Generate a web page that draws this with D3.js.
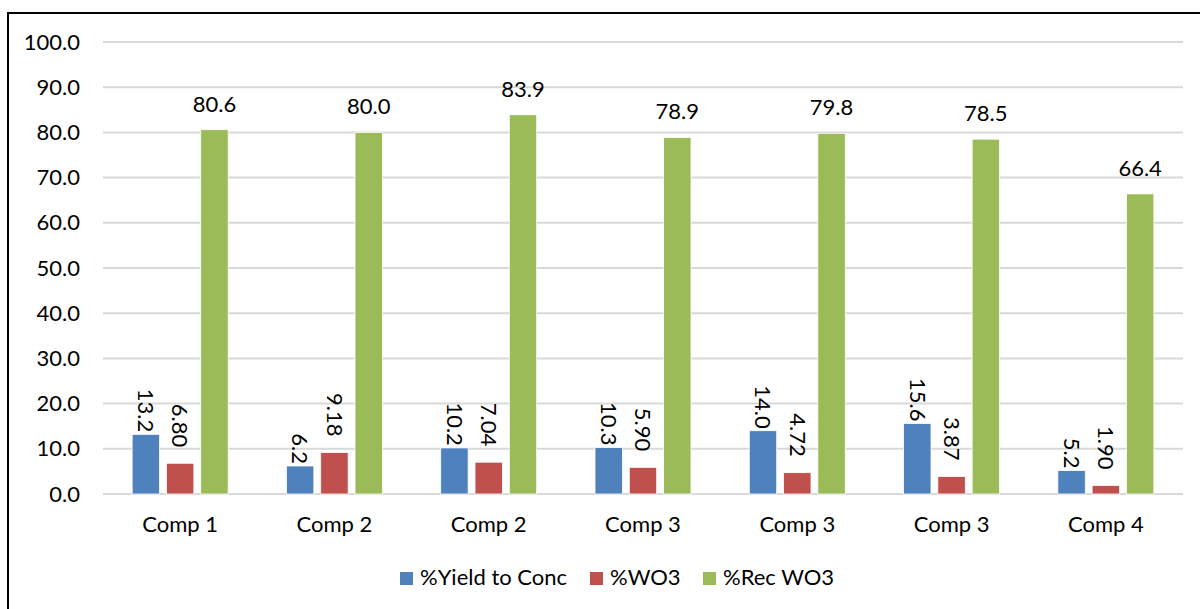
<!DOCTYPE html>
<html>
<head>
<meta charset="utf-8">
<script src="https://cdn.jsdelivr.net/npm/d3@7"></script>
<style>
  html, body { margin: 0; padding: 0; background: #fff; }
  svg { display: block; font-family: Lato, "Open Sans", sans-serif; }
</style>
</head>
<body>
<svg id="chart" width="1200" height="609"></svg>
<script>
// Sample categories (the same name can appear more than once)
const categories = ["Comp 1", "Comp 2", "Comp 2", "Comp 3", "Comp 3", "Comp 3", "Comp 4"];

// Series values per sample
const yieldToConc = [13.2, 6.2, 10.2, 10.3, 14.0, 15.6, 5.2];
const wo3Grade    = [6.80, 9.18, 7.04, 5.90, 4.72, 3.87, 1.90];
const recWO3      = [80.6, 80.0, 83.9, 78.9, 79.8, 78.5, 66.4];

// Y axis ticks
const yTicks = [0, 10, 20, 30, 40, 50, 60, 70, 80, 90, 100];

const seriesNames = ["%Yield to Conc", "%WO3", "%Rec WO3"];
const seriesValues = [yieldToConc, wo3Grade, recWO3];
const seriesColors = ["#4F81BD", "#C0504D", "#9BBB59"];
const seriesFormats = [d3.format(".1f"), d3.format(".2f"), d3.format(".1f")];

const FONT = "Lato, 'Open Sans', sans-serif";
const FS = 22;

const svg = d3.select("#chart");

// chart frame
svg.append("rect")
  .attr("x", 8).attr("y", 13)
  .attr("width", 1210).attr("height", 620)
  .attr("fill", "#fff").attr("stroke", "#000").attr("stroke-width", 2);

const plot = { left: 103, right: 1183, top: 42, bottom: 494 };

const x = d3.scaleBand()
  .domain(d3.range(categories.length))
  .range([plot.left, plot.right]);

const y = d3.scaleLinear()
  .domain([0, 100])
  .range([plot.bottom, plot.top]);

const groupWidth = 96;
const xs = d3.scaleBand()
  .domain(d3.range(seriesNames.length))
  .range([(x.bandwidth() - groupWidth) / 2, (x.bandwidth() + groupWidth) / 2])
  .paddingInner(0.2);

// gridlines
svg.append("g")
  .selectAll("line")
  .data(yTicks)
  .join("line")
  .attr("x1", plot.left).attr("x2", plot.right)
  .attr("y1", d => y(d)).attr("y2", d => y(d))
  .attr("stroke", "#D9D9D9").attr("stroke-width", 2);

// y axis labels
const yAxis = d3.axisLeft(y).tickValues(yTicks).tickFormat(d3.format(".1f")).tickSize(0).tickPadding(0);
const yg = svg.append("g").attr("transform", `translate(80,0)`).call(yAxis);
yg.select(".domain").remove();
yg.selectAll("text")
  .attr("font-size", FS).attr("fill", "#000")
  .attr("font-family", FONT);

// x axis labels
const xAxis = d3.axisBottom(x).tickFormat(i => categories[i]).tickSize(0).tickPadding(0);
const xg = svg.append("g").attr("transform", `translate(0,${plot.bottom + 22})`).call(xAxis);
xg.select(".domain").remove();
xg.selectAll("text")
  .attr("font-size", FS).attr("fill", "#000")
  .attr("font-family", FONT);

// bars and value labels
const groups = svg.append("g")
  .selectAll("g")
  .data(categories.map((c, i) => i))
  .join("g")
  .attr("transform", i => `translate(${x(i)},0)`);

groups.selectAll("rect")
  .data(i => seriesValues.map((vals, s) => ({ s, v: vals[i] })))
  .join("rect")
  .attr("x", d => xs(d.s))
  .attr("width", xs.bandwidth())
  .attr("y", d => y(d.v))
  .attr("height", d => y(0) - y(d.v))
  .attr("fill", d => seriesColors[d.s])
  .attr("stroke", "#fff").attr("stroke-width", 0.8);

// upright labels for the recovery series
groups.selectAll("text.upright")
  .data(i => [{ s: 2, v: recWO3[i] }])
  .join("text")
  .attr("class", "upright")
  .attr("x", d => xs(d.s) + xs.bandwidth() / 2)
  .attr("y", d => y(d.v) - 18)
  .attr("text-anchor", "middle")
  .attr("font-size", FS)
  .attr("fill", "#000")
  .text(d => seriesFormats[d.s](d.v));

// rotated labels for yield and grade
const rotOffset = [2, 16];
groups.selectAll("text.rot")
  .data(i => [{ s: 0, v: yieldToConc[i] }, { s: 1, v: wo3Grade[i] }])
  .join("text")
  .attr("class", "rot")
  .attr("transform", d => `translate(${xs(d.s) + xs.bandwidth() / 2},${y(d.v) - rotOffset[d.s]}) rotate(90)`)
  .attr("text-anchor", "end")
  .attr("dy", "0.35em")
  .attr("font-size", FS)
  .attr("fill", "#000")
  .text(d => seriesFormats[d.s](d.v));

// legend
const legendItems = [
  { name: seriesNames[0], color: seriesColors[0], x: 400 },
  { name: seriesNames[1], color: seriesColors[1], x: 590 },
  { name: seriesNames[2], color: seriesColors[2], x: 703 }
];
const lg = svg.append("g").selectAll("g").data(legendItems).join("g")
  .attr("transform", d => `translate(${d.x},572)`);
lg.append("rect").attr("width", 13).attr("height", 13).attr("fill", d => d.color);
lg.append("text")
  .attr("x", 20).attr("y", 13)
  .attr("font-size", FS).attr("fill", "#000")
  .text(d => d.name);
</script>
</body>
</html>
